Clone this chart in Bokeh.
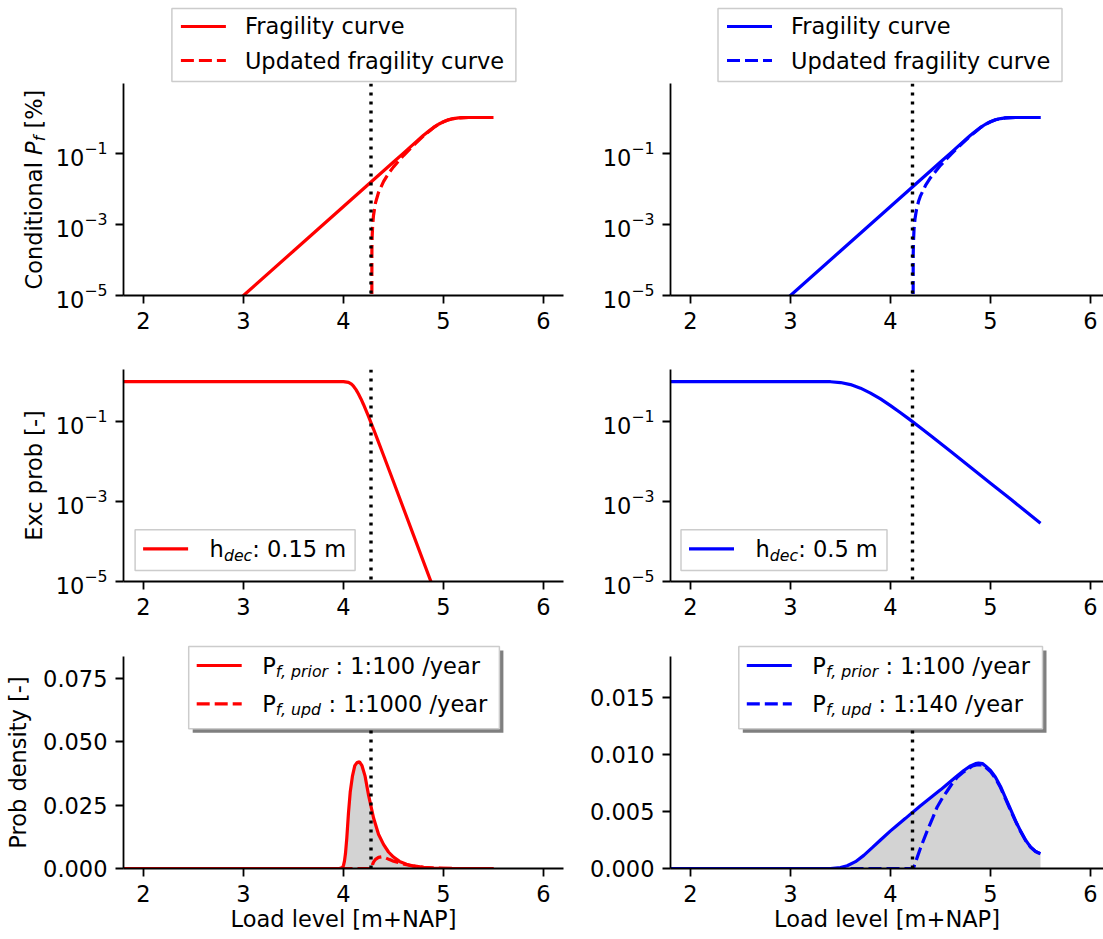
import math
from bokeh.plotting import figure
from bokeh.models import (Range1d, FixedTicker, NumeralTickFormatter, Span, Label, BoxAnnotation)
from bokeh.layouts import column, row
from bokeh.embed import file_html
from bokeh.resources import INLINE

FONT = "DejaVu Sans"
FS = 22.5
SUB = 15.75
MID = 0.346  # baseline -> middle offset, in em

# ---------------- data ----------------
x_ticks = [2, 3, 4, 5, 6]
x_start = 1.8
x_end_left = 6.2
x_end_right = 6.13
log_ticks = [1e-5, 1e-3, 1e-1]
frag_ylim = (1e-5, 9.0)
exc_ylim = (1e-5, 2.0)
dens_ticks_left = [0.0, 0.025, 0.05, 0.075]
dens_ticks_right = [0.0, 0.005, 0.010, 0.015]
dens_axis_left = (0.0, 0.0835)     # visible axis extent
dens_axis_right = (0.0, 0.0186)
dens_ylim_left = (0.0, 0.08823)    # frame reaches a little higher (room for legend)
dens_ylim_right = (0.0, 0.019653)

h_obs_left = 4.275
h_obs_right = 4.22

frag_x = [2.90, 3.00, 3.50, 4.00, 4.50, 4.60, 4.70, 4.80, 4.85, 4.90, 4.95, 5.00,
          5.05, 5.10, 5.15, 5.20, 5.25, 5.50]
frag_y = [5.6e-6, 1.0e-5, 1.78e-4, 3.16e-3, 0.0562, 0.100, 0.178, 0.316, 0.407, 0.525,
          0.646, 0.759, 0.861, 0.933, 0.973, 0.991, 1.0, 1.0]

upd_frag_left_x = [4.282, 4.284, 4.287, 4.292, 4.30, 4.32, 4.35, 4.40, 4.45, 4.50, 4.55,
                   4.60, 4.70, 4.80, 4.85, 4.90, 4.95, 5.00, 5.05, 5.10, 5.15, 5.20, 5.25, 5.50]
upd_frag_left_y = [1e-9, 1.9e-4, 4.8e-4, 9.7e-4, 1.78e-3, 3.98e-3, 7.8e-3, 0.0158, 0.0266,
                   0.0409, 0.0599, 0.0853, 0.1647, 0.305, 0.398, 0.5175, 0.6403, 0.755,
                   0.859, 0.932, 0.9726, 0.991, 1.0, 1.0]

upd_frag_right_x = [4.225, 4.227, 4.23, 4.235, 4.245, 4.26, 4.28, 4.30, 4.35, 4.40, 4.50,
                    4.60, 4.70, 4.80, 4.85, 4.90, 4.95, 5.00, 5.05, 5.10, 5.15, 5.20, 5.25, 5.50]
upd_frag_right_y = [1e-9, 1.3e-4, 3.4e-4, 7.0e-4, 1.43e-3, 2.6e-3, 4.35e-3, 6.3e-3, 0.0123,
                    0.0203, 0.0452, 0.0895, 0.1684, 0.308, 0.4001, 0.5195, 0.6419, 0.7562,
                    0.8594, 0.9322, 0.9727, 0.991, 1.0, 1.0]

exc_left_x = [1.8, 3.95, 4.00, 4.05, 4.08, 4.10, 4.125, 4.15, 4.175, 4.20, 4.25, 4.30,
              4.35, 4.40, 4.50, 4.70, 4.90, 5.50]
exc_left_y = [1.0, 1.0, 0.9988, 0.955, 0.86, 0.764, 0.627, 0.489, 0.367, 0.267, 0.1345,
              0.0649, 0.0306, 0.01435, 0.00311, 1.445e-4, 6.71e-6, 6.71e-10]

exc_right_x = [1.8, 3.2, 3.3, 3.4, 3.5, 3.6, 3.7, 3.8, 3.9, 4.0, 4.1, 4.2, 4.3, 4.4,
               4.6, 4.8, 5.0, 5.2, 5.5]
exc_right_y = [1.0, 1.0, 0.99928, 0.9896, 0.944, 0.838, 0.683, 0.515, 0.367, 0.250,
               0.1664, 0.1085, 0.0699, 0.0447, 0.01804, 0.00723, 0.00288, 0.001148, 2.88e-4]

dens_left_x = [1.8, 3.96, 3.99, 4.0, 4.01, 4.02, 4.033, 4.05, 4.067, 4.09, 4.113, 4.135,
               4.16, 4.185, 4.215, 4.25, 4.30, 4.35, 4.40, 4.45, 4.50, 4.56, 4.63, 4.70,
               4.80, 4.90, 5.00, 5.10, 5.50]
dens_left_prior = [0, 0, 0.0004, 0.0012, 0.003, 0.006, 0.012, 0.022, 0.030, 0.0365, 0.0405,
                   0.0417, 0.042, 0.0405, 0.0365, 0.029, 0.020, 0.0135, 0.0095, 0.0065,
                   0.0045, 0.0028, 0.0017, 0.001, 0.0005, 0.0002, 0.0001, 0.0, 0.0]
dens_left_upd_x = [1.8, 4.285, 4.29, 4.30, 4.32, 4.35, 4.38, 4.42, 4.46, 4.50, 4.56, 4.63,
                   4.70, 4.80, 4.90, 5.00, 5.10, 5.50]
dens_left_upd = [0, 0, 0.0015, 0.0025, 0.0036, 0.0044, 0.0046, 0.0042, 0.0035, 0.0029,
                 0.0022, 0.0015, 0.0009, 0.00048, 0.0002, 0.0001, 0, 0]

dens_right_x = [1.8, 3.40, 3.50, 3.567, 3.65, 3.733, 3.82, 3.90, 4.00, 4.067, 4.15, 4.217,
                4.30, 4.40, 4.50, 4.567, 4.65, 4.733, 4.80, 4.85, 4.88, 4.92, 4.95, 5.00,
                5.05, 5.10, 5.15, 5.20, 5.25, 5.30, 5.35, 5.40, 5.45, 5.50]
dens_right_prior = [0, 0, 0.00008, 0.00024, 0.0006, 0.00115, 0.00185, 0.0025, 0.0033, 0.0038,
                    0.0044, 0.0049, 0.0055, 0.0062, 0.0069, 0.0074, 0.0080, 0.0086, 0.0090,
                    0.0092, 0.00925, 0.0092, 0.0090, 0.0086, 0.0080, 0.0072, 0.0062, 0.0052,
                    0.0042, 0.0033, 0.0025, 0.0019, 0.0015, 0.0013]
dens_right_upd_x = [1.8, 4.23, 4.24, 4.26, 4.30, 4.367, 4.42, 4.467, 4.52, 4.567, 4.62, 4.667,
                    4.72, 4.767, 4.82, 4.87, 4.92, 4.95, 5.00, 5.05, 5.10, 5.15, 5.20, 5.25,
                    5.30, 5.35, 5.40, 5.45, 5.50]
dens_right_upd = [0, 0, 0.0003, 0.0008, 0.0018, 0.0033, 0.0044, 0.0054, 0.0062, 0.0068,
                  0.0075, 0.0080, 0.0084, 0.0087, 0.0090, 0.0091, 0.0091, 0.0089, 0.0085,
                  0.0079, 0.0071, 0.0061, 0.0051, 0.00415, 0.00327, 0.00248, 0.00188,
                  0.00149, 0.00129]

legend_frag = ["Fragility curve", "Updated fragility curve"]
hdec_text = [": 0.15 m", ": 0.5 m"]
pf_prior_text = [": 1:100 /year", ": 1:100 /year"]
pf_upd_text = [": 1:1000 /year", ": 1:140 /year"]
xlabel = "Load level [m+NAP]"
colors = ["#ff0000", "#0000ff"]

LW = 3.2
DASH = "13 5"
DOT = "3 6"


def panel(w, h, bl, br, bt, bb, x_end, yr, log):
    p = figure(width=w, height=h, x_range=Range1d(x_start, x_end), y_range=Range1d(*yr),
               y_axis_type="log" if log else "linear",
               toolbar_location=None, output_backend="svg",
               min_border_left=bl, min_border_right=br,
               min_border_top=bt, min_border_bottom=bb,
               background_fill_color="white", border_fill_color="white",
               outline_line_color=None)
    p.grid.visible = False
    for ax in (p.xaxis, p.yaxis):
        ax.axis_line_width = 1.8
        ax.axis_line_color = "black"
        ax.major_tick_line_width = 1.8
        ax.major_tick_line_color = "black"
        ax.major_tick_out = 8
        ax.major_tick_in = 0
        ax.minor_tick_line_color = None
        ax.major_label_text_font = FONT
        ax.major_label_text_font_size = f"{FS}px"
        ax.major_label_text_color = "black"
        ax.major_label_standoff = 8
    p.xaxis.ticker = FixedTicker(ticks=x_ticks)
    return p


def blank(w, h):
    p = figure(width=w, height=h, x_range=Range1d(0, 1), y_range=Range1d(0, 1),
               toolbar_location=None, output_backend="svg",
               x_axis_location=None, y_axis_location=None,
               min_border_left=0, min_border_right=0, min_border_top=0, min_border_bottom=0,
               background_fill_color="white", border_fill_color="white",
               outline_line_color=None)
    p.grid.visible = False
    return p


def txt(p, x, yb, text, size=FS, italic=False, rot=False, align="left"):
    """x, yb: baseline anchor in screen px relative to the frame (y upwards)."""
    off = MID * size
    if rot:
        x, y, ang = x - off, yb, math.pi / 2
    else:
        x, y, ang = x, yb + off, 0.0
    p.add_layout(Label(x=x, y=y, x_units="screen", y_units="screen", text=text,
                       text_font=FONT, text_font_size=f"{size}px",
                       text_font_style="italic" if italic else "normal",
                       text_align=align, text_baseline="middle", angle=ang,
                       text_color="black"))


def box(p, l, r, t, b, fill="white", alpha=1.0, line=None, lw=1.5):
    bx = BoxAnnotation(left=l, right=r, top=t, bottom=b,
                       left_units="screen", right_units="screen",
                       top_units="screen", bottom_units="screen",
                       fill_color=fill, fill_alpha=alpha,
                       line_color=line, line_alpha=1.0, line_width=lw)
    p.add_layout(bx)
    return bx


def sample(p, x0, yc, color, dashed):
    segs = [(0, 13), (18, 31), (36, 45)] if dashed else [(0, 45)]
    for a, b in segs:
        box(p, x0 + a, x0 + b, yc + 1.6, yc - 1.6, fill=color)


h_obs = [h_obs_left, h_obs_right]
x_ends = [x_end_left, x_end_right]
frag_upd = [(upd_frag_left_x, upd_frag_left_y), (upd_frag_right_x, upd_frag_right_y)]
excs = [(exc_left_x, exc_left_y), (exc_right_x, exc_right_y)]
dens = [(dens_left_x, dens_left_prior, dens_left_upd_x, dens_left_upd, dens_ylim_left,
         dens_axis_left, dens_ticks_left),
        (dens_right_x, dens_right_prior, dens_right_upd_x, dens_right_upd, dens_ylim_right,
         dens_axis_right, dens_ticks_right)]

# ---- row A: legends above the top panels (strip 0..83 px) ----
rowA = []
for c, (w, bl) in enumerate([(583, 171.4), (520, 134.5)]):
    s = blank(w, 83)
    box(s, bl, bl + 344, 75, 2, alpha=0.8, line="#cccccc")
    sample(s, bl + 9, 57, colors[c], False)
    sample(s, bl + 9, 23, colors[c], True)
    txt(s, bl + 73, 49.7, legend_frag[0])
    txt(s, bl + 73, 14.7, legend_frag[1])
    rowA.append(s)

# ---- row B: fragility (frame 83..295) ----
ylab1 = blank(50, 257)
bx = 41
txt(ylab1, bx, 6, "Conditional", rot=True)
txt(ylab1, bx, 140.6, "P", italic=True, rot=True)
txt(ylab1, bx + 3.5, 154.2, "f", size=SUB, italic=True, rot=True)
txt(ylab1, bx, 166.9, "[%]", rot=True)
rowB = [ylab1]
for c, (w, bl, br) in enumerate([(533, 73, 20), (520, 87, 0)]):
    p = panel(w, 257, bl, br, 0, 45, x_ends[c], frag_ylim, True)
    p.yaxis.ticker = FixedTicker(ticks=log_ticks)
    p.line(frag_x, frag_y, line_color=colors[c], line_width=LW)
    p.line(frag_upd[c][0], frag_upd[c][1], line_color=colors[c], line_width=LW, line_dash=DASH)
    p.add_layout(Span(location=h_obs[c], dimension="height", line_color="black",
                      line_width=3.4, line_dash=DOT))
    rowB.append(p)

# ---- row C: exceedance (frame 369..581) ----
ylab2 = blank(50, 286)
txt(ylab2, 41, 106, "Exc prob [-]", rot=True, align="center")
rowC = [ylab2]
mid_box = [(11.6, 231.6), (10.5, 216.5)]
for c, (w, bl, br) in enumerate([(533, 73, 20), (520, 87, 0)]):
    p = panel(w, 286, bl, br, 29, 45, x_ends[c], exc_ylim, True)
    p.yaxis.ticker = FixedTicker(ticks=log_ticks)
    p.line(excs[c][0], excs[c][1], line_color=colors[c], line_width=LW)
    p.add_layout(Span(location=h_obs[c], dimension="height", line_color="black",
                      line_width=3.4, line_dash=DOT))
    l, r = mid_box[c]
    box(p, l, r, 51.7, 11, alpha=0.8, line="#cccccc")
    sample(p, l + 8, 32.7, colors[c], False)
    txt(p, l + 74.5, 24.3, "h")
    txt(p, l + 74.5 + 14.3, 20.8, "dec", size=SUB, italic=True)
    txt(p, l + 74.5 + 14.3 + 28.4, 24.3, hdec_text[c])
    rowC.append(p)

# ---- row D: spacer (626..644) ----
rowD = [blank(583, 18), blank(520, 18)]

# ---- row E: densities (frame 644..868, axis drawn 656..868) ----
bot_box = [(65.2, 375.9), (68.3, 372.0)]
ylab3 = blank(36, 295)
txt(ylab3, 25, 106, "Prob density [-]", rot=True, align="center")
rowE = [ylab3]
for c, (w, bl, br) in enumerate([(547, 87, 20), (520, 87, 0)]):
    dx, dprior, dux, dupd, dylim, daxis, dticks = dens[c]
    p = panel(w, 295, bl, br, 0, 71, x_ends[c], dylim, False)
    p.yaxis.ticker = FixedTicker(ticks=dticks)
    p.yaxis.bounds = daxis
    p.yaxis.formatter = NumeralTickFormatter(format="0.000")
    p.xaxis.axis_label = xlabel
    p.xaxis.axis_label_text_font = FONT
    p.xaxis.axis_label_text_font_size = f"{FS}px"
    p.xaxis.axis_label_text_font_style = "normal"
    p.xaxis.axis_label_text_color = "black"
    p.xaxis.axis_label_standoff = 1
    p.varea(x=dx, y1=0, y2=dprior, fill_color="#d3d3d3")
    p.line(dx, dprior, line_color=colors[c], line_width=LW)
    p.line(dux, dupd, line_color=colors[c], line_width=LW, line_dash=DASH)
    p.segment(x0=[h_obs[c]], y0=[daxis[0]], x1=[h_obs[c]], y1=[daxis[1]],
              line_color="black", line_width=3.4, line_dash=DOT)
    l, r = bot_box[c]
    box(p, l + 4, r + 4, 222 - 4, 139.7 - 4, fill="black", alpha=0.5)
    box(p, l, r, 222, 139.7, line="#cccccc")
    sample(p, l + 8, 203, colors[c], False)
    sample(p, l + 8, 164.7, colors[c], True)
    tx = l + 73.5
    txt(p, tx, 194.7, "P")
    txt(p, tx + 13.6, 191.2, "f, prior", size=SUB, italic=True)
    txt(p, tx + 13.6 + 52.5 + 7.2, 194.7, pf_prior_text[c])
    txt(p, tx, 157, "P")
    txt(p, tx + 13.6, 153.5, "f, upd", size=SUB, italic=True)
    txt(p, tx + 13.6 + 45.5 + 7.2, 157, pf_upd_text[c])
    rowE.append(p)

layout = column(row(*rowA), row(*rowB), row(*rowC), row(*rowD), row(*rowE))
open("out.html", "w").write(file_html(layout, INLINE))
